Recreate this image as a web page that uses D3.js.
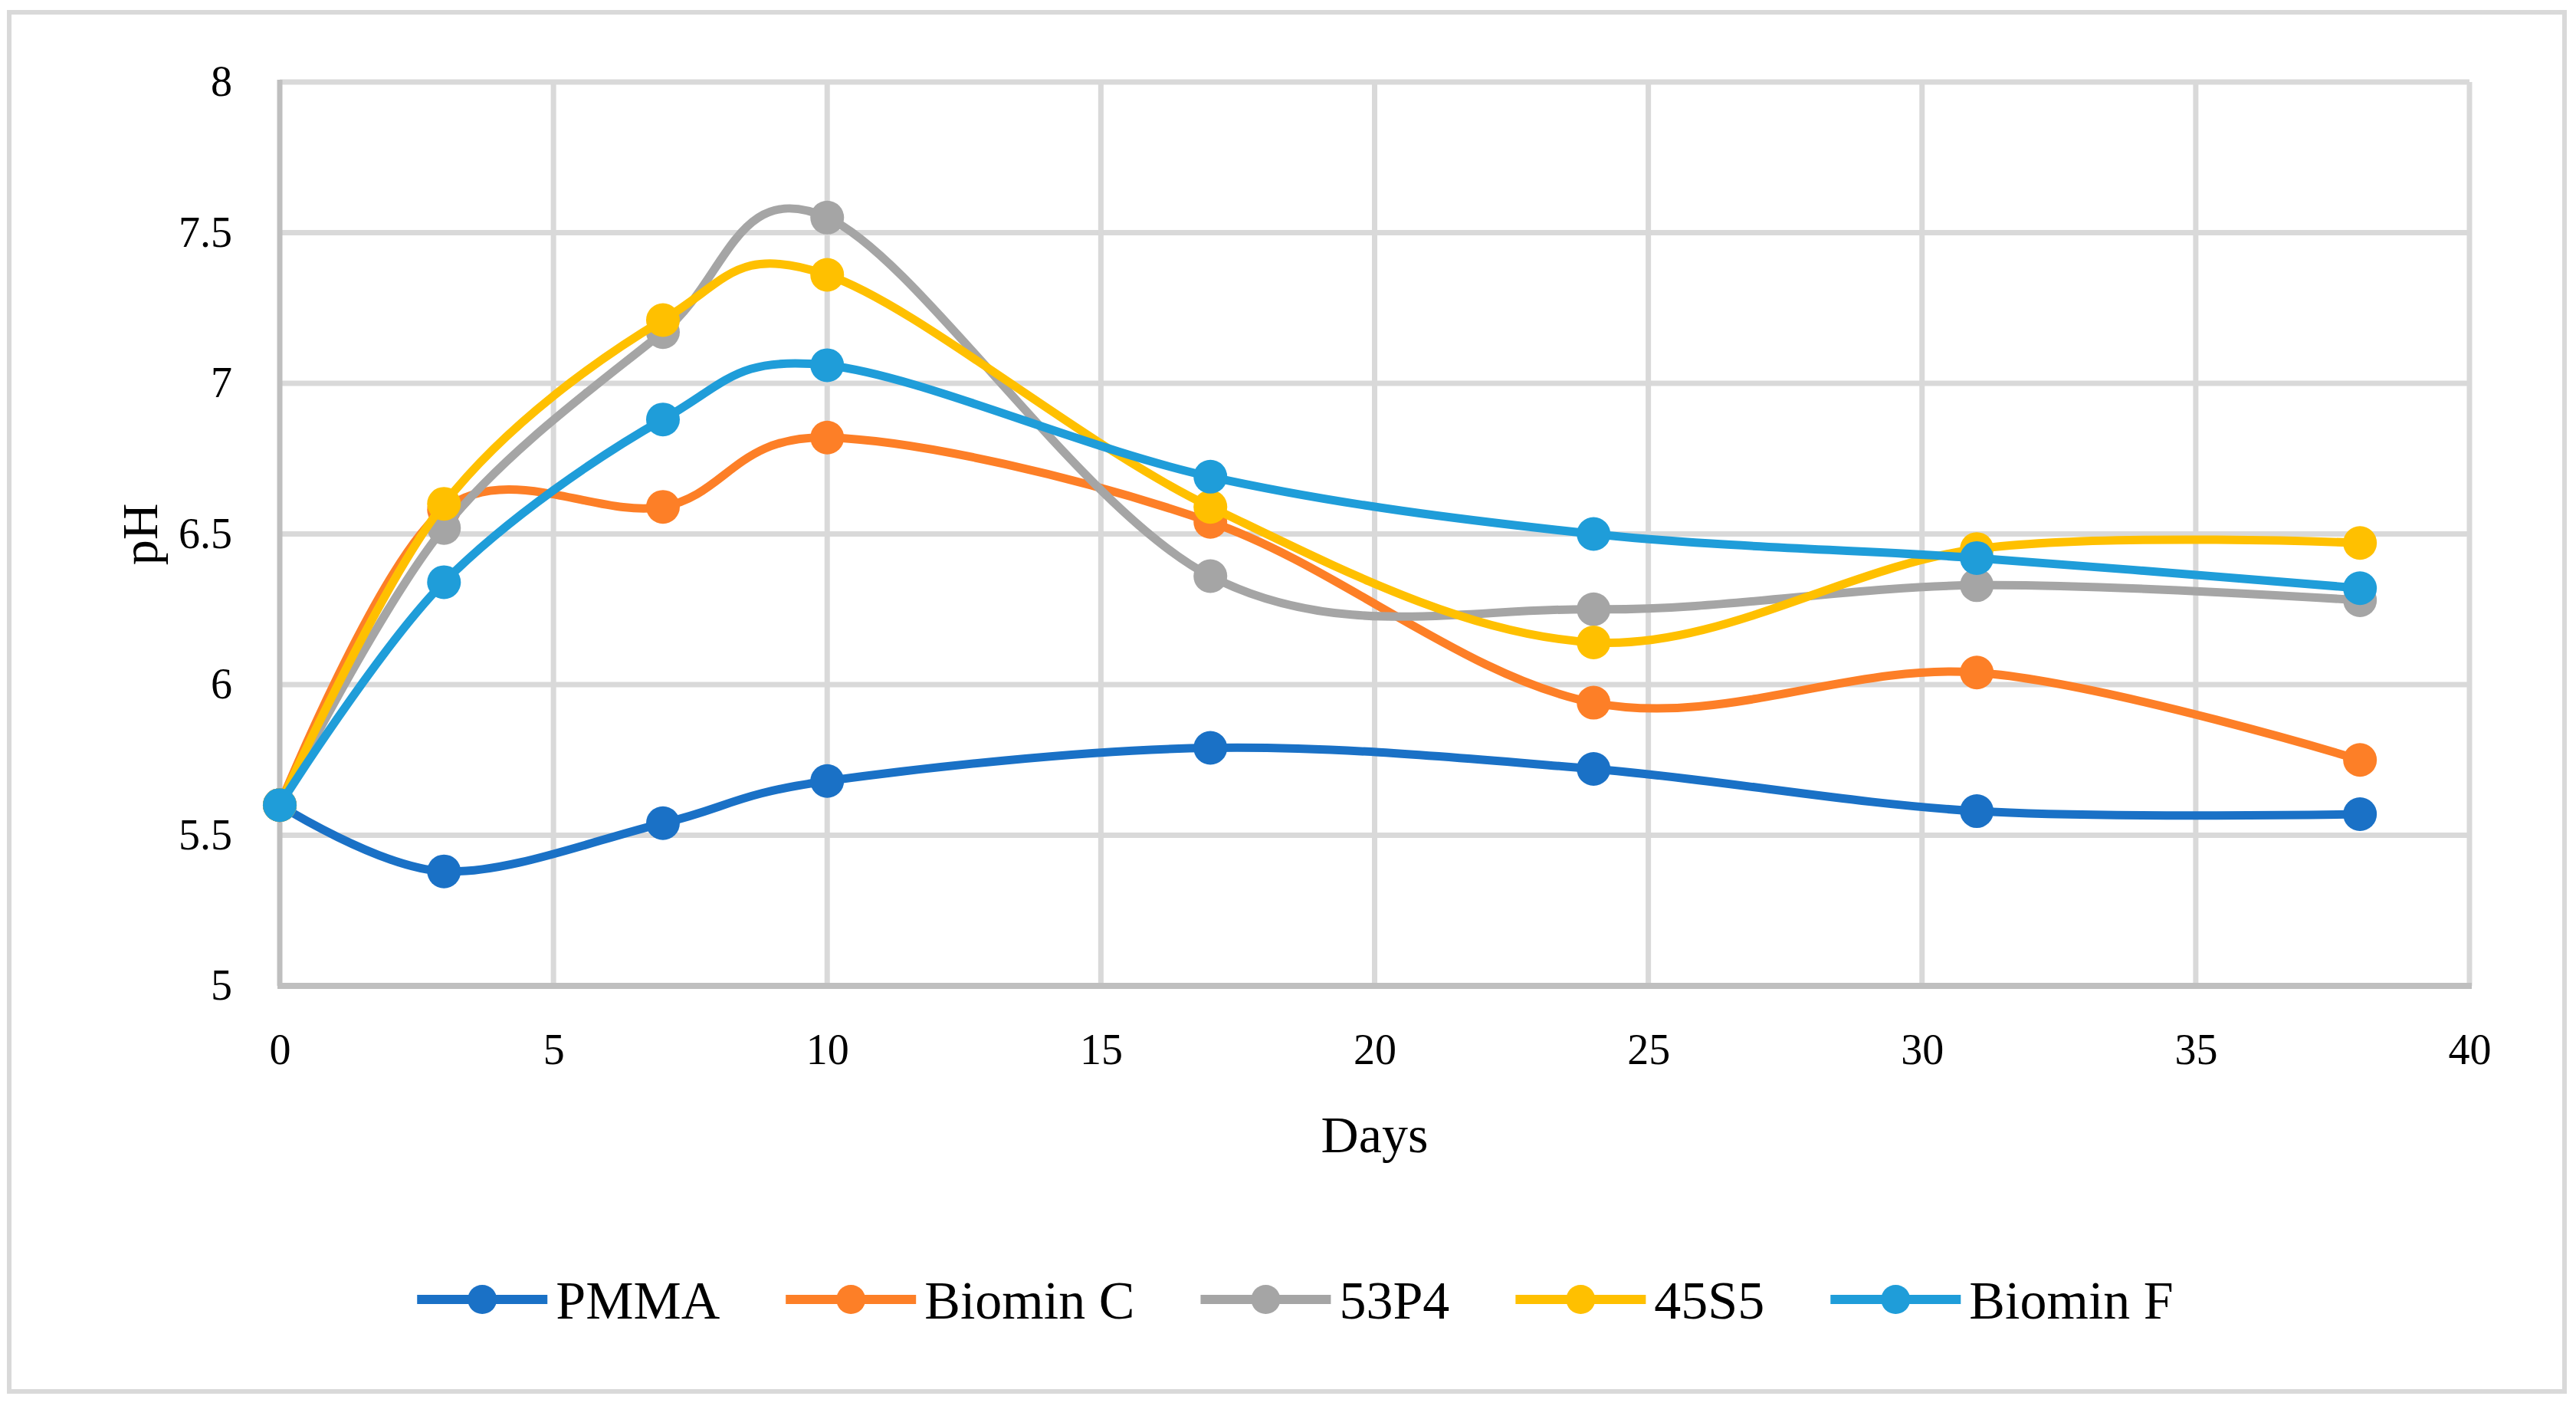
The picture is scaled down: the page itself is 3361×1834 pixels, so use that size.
<!DOCTYPE html>
<html>
<head>
<meta charset="utf-8">
<script src="https://cdn.jsdelivr.net/npm/d3@7"></script>
<style>
  body { margin: 0; background: #fff; }
  text { font-family: "Palatino Linotype", "Book Antiqua", Palatino, "Liberation Serif", serif; fill: #000; }
</style>
</head>
<body>
<div id="chart"></div>
<script>
// pH over time
const days = [0, 3, 7, 10, 17, 24, 31, 38];
const pmma    = [5.60, 5.38, 5.54, 5.68, 5.79, 5.72, 5.58, 5.57];
const biominC = [5.60, 6.58, 6.59, 6.82, 6.54, 5.94, 6.04, 5.75];
const p53P4   = [5.60, 6.52, 7.17, 7.55, 6.36, 6.25, 6.33, 6.28];
const s45S5   = [5.60, 6.60, 7.21, 7.36, 6.59, 6.14, 6.45, 6.47];
const biominF = [5.60, 6.34, 6.88, 7.06, 6.69, 6.50, 6.42, 6.32];

const seriesNames  = ['PMMA', 'Biomin C', '53P4', '45S5', 'Biomin F'];
const seriesValues = [pmma, biominC, p53P4, s45S5, biominF];
const seriesColors = ['#1a71c6', '#fd7f27', '#a5a5a5', '#ffc000', '#1f9dd9'];

const xTicks = [0, 5, 10, 15, 20, 25, 30, 35, 40];
const yTicks = [5, 5.5, 6, 6.5, 7, 7.5, 8];

const width = 3361, height = 1834;
const plot = { left: 365, right: 3222, top: 107, bottom: 1286 };

const svg = d3.select('#chart').append('svg')
  .attr('width', width)
  .attr('height', height)
  .attr('viewBox', [0, 0, width, height]);

svg.append('rect').attr('width', width).attr('height', height).attr('fill', '#fff');

// chart area border
svg.append('rect')
  .attr('x', 12).attr('y', 16)
  .attr('width', 3334).attr('height', 1799)
  .attr('fill', 'none')
  .attr('stroke', '#d9d9d9')
  .attr('stroke-width', 6);

const x = d3.scaleLinear().domain([0, 40]).range([plot.left, plot.right]);
const y = d3.scaleLinear().domain([5, 8]).range([plot.bottom, plot.top]);

// gridlines
const grid = svg.append('g').attr('stroke', '#d9d9d9').attr('stroke-width', 7);
grid.selectAll('.hg').data(yTicks.filter(d => d > 5)).join('line')
  .attr('x1', plot.left).attr('x2', plot.right)
  .attr('y1', d => y(d)).attr('y2', d => y(d));
grid.selectAll('.vg').data(xTicks.filter(d => d > 0)).join('line')
  .attr('x1', d => x(d)).attr('x2', d => x(d))
  .attr('y1', plot.top).attr('y2', plot.bottom);

// axis lines
svg.append('line')
  .attr('x1', plot.left).attr('x2', plot.left)
  .attr('y1', plot.top - 3).attr('y2', plot.bottom)
  .attr('stroke', '#bfbfbf').attr('stroke-width', 7);
svg.append('line')
  .attr('x1', plot.left - 3).attr('x2', plot.right + 3)
  .attr('y1', plot.bottom).attr('y2', plot.bottom)
  .attr('stroke', '#bfbfbf').attr('stroke-width', 8);

// tick labels via d3 axes (lines hidden)
const yAxis = svg.append('g')
  .attr('transform', `translate(${plot.left},0)`)
  .call(d3.axisLeft(y).tickValues(yTicks).tickSize(0).tickPadding(62).tickFormat(d3.format('')));
const xAxis = svg.append('g')
  .attr('transform', `translate(0,${plot.bottom})`)
  .call(d3.axisBottom(x).tickValues(xTicks).tickSize(0).tickPadding(62).tickFormat(d3.format('')));
[yAxis, xAxis].forEach(a => {
  a.select('.domain').remove();
  a.selectAll('text')
    .attr('font-size', 56)
    .attr('font-family', null)
    .attr('fill', '#000');
});
xAxis.selectAll('text').attr('dy', '0.35em').attr('y', 82);

// axis titles
svg.append('text')
  .attr('transform', 'translate(182,697) rotate(-90)')
  .attr('text-anchor', 'middle')
  .attr('dy', '0.35em')
  .attr('font-size', 66)
  .text('pH');
svg.append('text')
  .attr('x', (plot.left + plot.right) / 2)
  .attr('y', 1479)
  .attr('text-anchor', 'middle')
  .attr('dy', '0.35em')
  .attr('font-size', 68)
  .text('Days');

// series
const line = d3.line()
  .x((d, i) => x(days[i]))
  .y(d => y(d))
  .curve(d3.curveCatmullRom.alpha(0));

seriesValues.forEach((vals, si) => {
  const g = svg.append('g');
  g.append('path')
    .attr('d', line(vals))
    .attr('fill', 'none')
    .attr('stroke', seriesColors[si])
    .attr('stroke-width', 11)
    .attr('stroke-linecap', 'round');
  g.selectAll('circle').data(vals).join('circle')
    .attr('cx', (d, i) => x(days[i]))
    .attr('cy', d => y(d))
    .attr('r', 22)
    .attr('fill', seriesColors[si]);
});

// legend, centred in the chart area
const legendY = 1695;
const legend = svg.append('g');
const items = legend.selectAll('g').data(seriesNames).join('g');
items.append('line')
  .attr('x1', 0).attr('x2', 170)
  .attr('y1', legendY).attr('y2', legendY)
  .attr('stroke', (d, i) => seriesColors[i])
  .attr('stroke-width', 12);
items.append('circle')
  .attr('cx', 85).attr('cy', legendY).attr('r', 19)
  .attr('fill', (d, i) => seriesColors[i]);
items.append('text')
  .attr('x', 181).attr('y', legendY)
  .attr('dy', '0.35em')
  .attr('font-size', 70)
  .text(d => d);

let cursor = 0;
items.each(function() {
  const w = d3.select(this).select('text').node().getComputedTextLength();
  d3.select(this).attr('transform', `translate(${cursor},0)`);
  cursor += 181 + w + 86;
});
const total = cursor - 86;
legend.attr('transform', `translate(${1690 - total / 2},0)`);
</script>
</body>
</html>
